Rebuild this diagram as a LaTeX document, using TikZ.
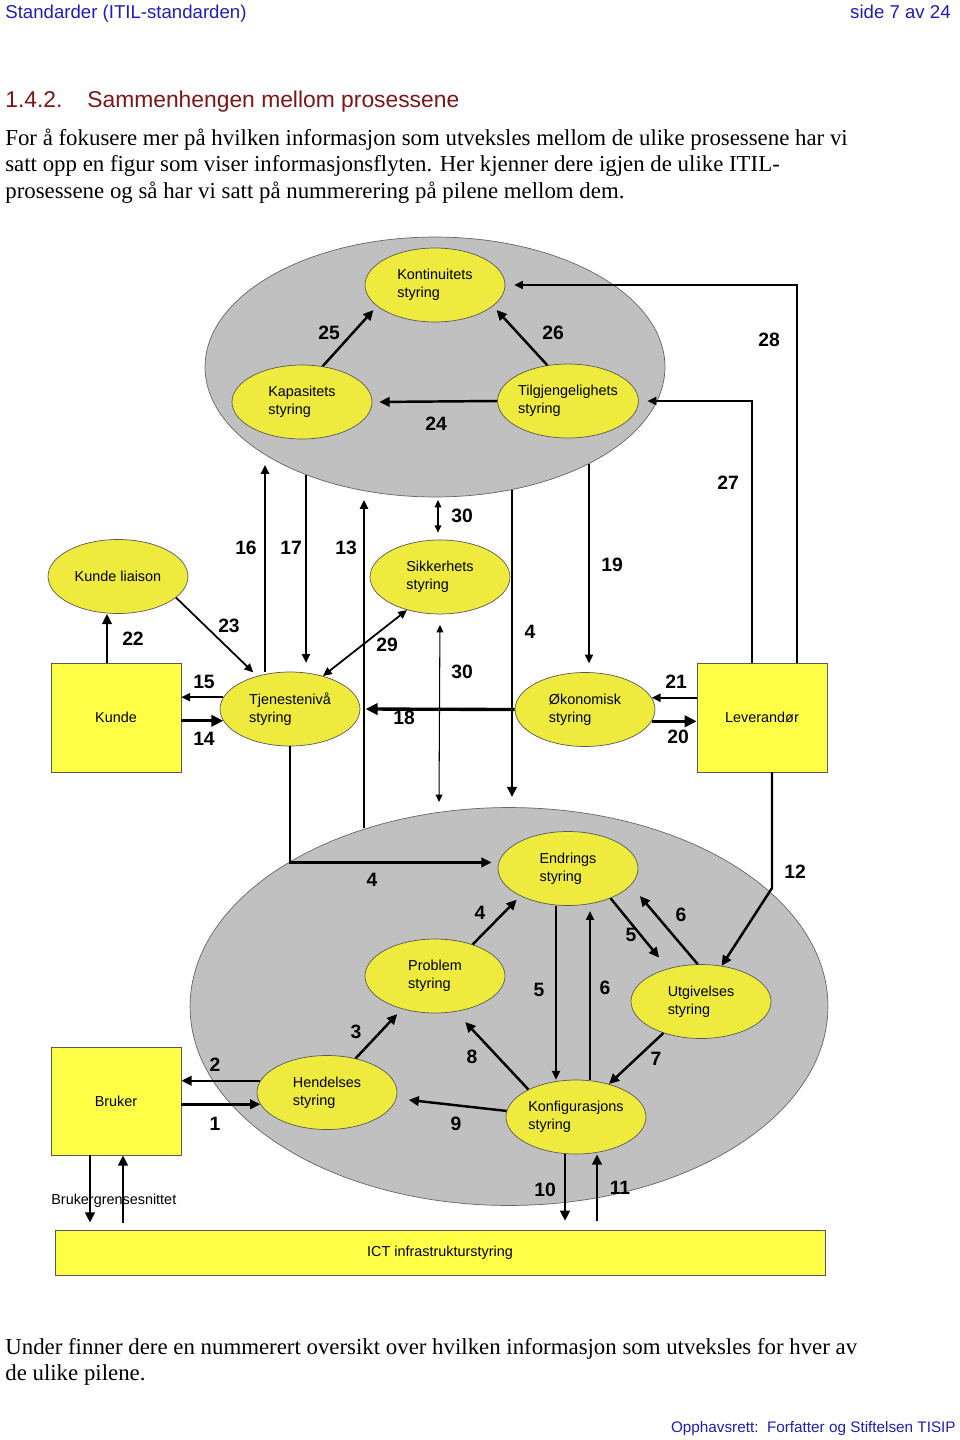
\documentclass[tikz,border=0pt]{standalone}
\usepackage{fontspec}
\setmainfont{Liberation Serif}
\newfontfamily\arialfont{Liberation Sans}
\usetikzlibrary{shapes.geometric,arrows.meta,positioning}

\definecolor{zonegray}{RGB}{192,192,192}
\definecolor{procyellow}{RGB}{238,235,62}
\definecolor{boxyellow}{RGB}{255,255,72}
\definecolor{headblue}{RGB}{30,30,185}
\definecolor{headred}{RGB}{125,22,22}

\tikzset{
  zone/.style={ellipse, draw=black!60, fill=zonegray, inner sep=0pt},
  proc/.style={ellipse, draw=black!65, fill=procyellow, minimum width=2.8cm,
    minimum height=1.48cm, inner sep=0pt, align=left,
    font=\arialfont\fontsize{8.2}{10.2}\selectfont},
  party/.style={rectangle, draw=black!65, fill=boxyellow, minimum width=2.6cm,
    minimum height=2.18cm, inner sep=0pt, font=\arialfont\fontsize{8.2}{10}\selectfont},
  num/.style={font=\arialfont\bfseries\fontsize{11}{13}\selectfont, inner sep=0pt},
  txt/.style={anchor=base west, inner sep=0pt, font=\fontsize{13}{15}\selectfont},
  fat/.style={line width=1.4pt},
  xfat/.style={line width=1.9pt},
  mid/.style={line width=1pt},
  slim/.style={line width=0.6pt},
}

\begin{document}
\begin{tikzpicture}[x=0.02cm, y=-0.02cm, >={Triangle[length=3pt 2, width=2.6pt 2]}]
    \fill[white] (0,0) rectangle (960,1440);
    \useasboundingbox (0,0) rectangle (960,1440);
    %page text
    \node[anchor=base west, inner sep=0pt, text=headblue, font=\arialfont\fontsize{10.6}{12}\selectfont] (hdleft) at (5,18) {Standarder (ITIL-standarden)};
    \node[anchor=base east, inner sep=0pt, text=headblue, font=\arialfont\fontsize{10.6}{12}\selectfont] (hdright) at (951,18) {side 7 av 24};
    \node[anchor=base west, inner sep=0pt, text=headred, font=\arialfont\fontsize{13}{15}\selectfont] (secno) at (5,107) {1.4.2.};
    \node[anchor=base west, inner sep=0pt, text=headred, font=\arialfont\fontsize{13}{15}\selectfont] (sectitle) at (87,107) {Sammenhengen mellom prosessene};
    \node[txt] (intro1) at (5,145) {For å fokusere mer på hvilken informasjon som utveksles mellom de ulike prosessene har vi};
    \node[txt] (intro2) at (5,171.5) {satt opp en figur som viser informasjonsflyten. Her kjenner dere igjen de ulike ITIL-};
    \node[txt] (intro3) at (5,198) {prosessene og så har vi satt på nummerering på pilene mellom dem.};
    \node[txt] (outro1) at (5,1354) {Under finner dere en nummerert oversikt over hvilken informasjon som utveksles for hver av};
    \node[txt] (outro2) at (5,1380.5) {de ulike pilene.};
    \node[anchor=base east, inner sep=0pt, text=headblue, font=\arialfont\fontsize{8.7}{10}\selectfont] (footer) at (956,1432) {Opphavsrett:\ \ Forfatter og Stiftelsen TISIP};

    %zones
    \node[zone, minimum width=9.2cm, minimum height=5.2cm] (topzone) at (435,367) {};
    \node[zone, minimum width=12.76cm, minimum height=7.96cm] (botzone) at (509,1006.5) {};

    %processes
    \node[proc] (kont) at (435,285) {Kontinuitets\\styring};
    \node[proc] (kap) at (302,402) {Kapasitets\\styring};
    \node[proc] (tilg) at (568,401) {Tilgjengelighets\\styring};
    \node[proc] (kl) at (118,576.5) {Kunde liaison};
    \node[proc] (sikk) at (440,577) {Sikkerhets\\styring};
    \node[proc] (tjen) at (290,709) {Tjenestenivå\\styring};
    \node[proc] (okon) at (585,709.5) {Økonomisk\\styring};
    \node[proc] (endr) at (568,868.5) {Endrings\\styring};
    \node[proc] (prob) at (435,976) {Problem\\styring};
    \node[proc] (utg) at (701,1001.5) {Utgivelses\\styring};
    \node[proc] (hend) at (327,1092.5) {Hendelses\\styring};
    \node[proc] (konf) at (576,1117) {Konfigurasjons\\styring};

    %parties
    \node[party] (kunde) at (116,717.5) {Kunde};
    \node[party] (lev) at (762,717.5) {Leverandør};
    \node[party, minimum height=2.16cm] (bruk) at (116,1101) {Bruker};
    \node[party, minimum width=15.4cm, minimum height=0.9cm] (ict) at (440,1252.5) {ICT infrastrukturstyring};
    \node[anchor=base west, inner sep=0pt, font=\arialfont\fontsize{8.2}{10}\selectfont] (ui) at (51,1204) {Brukergrensesnittet};

    %free ends
    \coordinate (t16) at (265,465);
    \coordinate (t17) at (306,475);
    \coordinate (t13) at (364,500);
    \coordinate (b13) at (364,828);
    \coordinate (t30) at (438,500);
    \coordinate (b30) at (439,802);
    \coordinate (t4) at (512,490);
    \coordinate (b4) at (512,797);
    \coordinate (t19) at (589,464);
    \coordinate (k12) at (772,888);

    %edges, top
    \path[->, fat]
     (kap.60) edge[shorten >=3pt] (kont.200)
     (tilg.120) edge[shorten >=3pt] (kont.340)
     (tilg.west) edge[shorten >=4pt] (kap.east);
    \draw[->, mid, shorten >=5pt] (797,0 |- lev.north) |- (kont.east);
    \draw[->, mid, shorten >=5pt] (752,0 |- lev.north) |- (tilg.east);

    %edges, middle
    \draw[->, mid] (265,0 |- tjen.north) -- (t16);
    \draw[->, mid, shorten >=5pt] (t17) -- (t17 |- tjen.north);
    \draw[->, mid] (b13) -- (t13);
    \draw[<->, slim, shorten >=4pt] (t30) -- (t30 |- sikk.north);
    \draw[<->, slim, shorten <=6pt] (sikk.south) -- (b30);
    \draw[->, fat] (t4) -- (b4);
    \draw[->, xfat, shorten >=3pt] (okon.west) -- (tjen.east);
    \draw[->, mid, shorten >=5pt] (t19) -- (t19 |- okon.north);
    \draw[->, fat] (107,0 |- kunde.north) -- (107,0 |- kl.south);
    \draw[->, mid, shorten >=3pt] (kl.340) -- (tjen.135);
    \draw[<->, mid] (tjen.45) -- (sikk.225);
    \draw[->, mid] (tjen.170) -- (tjen.170 -| kunde.east);
    \draw[->, xfat] (tjen.190 -| kunde.east) -- (tjen.190);
    \draw[->, mid] (okon.10 -| lev.west) -- (okon.10);
    \draw[->, xfat] (okon.350) -- (okon.350 -| lev.west);
    \draw[->, fat, shorten >=4pt] (tjen.south) |- (endr.175);
    \draw[->, fat] (772,0 |- lev.south) -- (k12) -- (utg.60);

    %edges, bottom
    \path[->, fat]
     (prob.40) edge[shorten >=3pt] (endr.210)
     (endr.325) edge[shorten >=8pt] (utg.135)
     (utg.95) edge[shorten >=8pt] (endr.345)
     (utg.220) edge (konf.45)
     (konf.150) edge[shorten >=8pt] (prob.300)
     (konf.175) edge[shorten >=7pt] (hend.355)
     (hend.50) edge[shorten >=4pt] (prob.225)
     (hend.170) edge (hend.170 -| bruk.east)
     (hend.190 -| bruk.east) edge (hend.190);
    \draw[->, mid] (556,0 |- endr.south) -- (556,0 |- konf.north);
    \draw[->, mid, shorten >=3pt] (590,0 |- konf.north) -- (590,0 |- endr.south);
    \draw[->, fat, shorten >=5pt] (565,0 |- konf.south) -- (565,0 |- ict.north);
    \draw[->, fat, shorten <=5pt] (597,0 |- ict.north) -- (597,0 |- konf.south);
    \draw[->, fat, shorten >=4pt] (90,0 |- bruk.south) -- (90,0 |- ict.north);
    \draw[->, fat, shorten <=4pt] (123,0 |- ict.north) -- (123,0 |- bruk.south);

    %numbers
    \node[num] (n25) at (329,333) {25};
    \node[num] (n26) at (553,333) {26};
    \node[num] (n24) at (436,424) {24};
    \node[num] (n28) at (769,340) {28};
    \node[num] (n27) at (728,483) {27};
    \node[num] (n30a) at (462,516) {30};
    \node[num] (n16) at (246,548) {16};
    \node[num] (n17) at (291,548) {17};
    \node[num] (n13) at (346,548) {13};
    \node[num] (n19) at (612,565) {19};
    \node[num] (n22) at (133,639) {22};
    \node[num] (n23) at (229,626) {23};
    \node[num] (n29) at (387,645) {29};
    \node[num] (n4a) at (530,632) {4};
    \node[num] (n30b) at (462,672) {30};
    \node[num] (n15) at (204,682) {15};
    \node[num] (n14) at (204,739) {14};
    \node[num] (n18) at (404,718) {18};
    \node[num] (n21) at (676,682) {21};
    \node[num] (n20) at (678,737) {20};
    \node[num] (n4b) at (372,880) {4};
    \node[num] (n12) at (795,872) {12};
    \node[num] (n4c) at (480,913) {4};
    \node[num] (n5a) at (631,935) {5};
    \node[num] (n6a) at (681,915) {6};
    \node[num] (n5b) at (539,990) {5};
    \node[num] (n6b) at (605,988) {6};
    \node[num] (n3) at (356,1032) {3};
    \node[num] (n8) at (472,1057) {8};
    \node[num] (n7) at (656,1059) {7};
    \node[num] (n2) at (215,1065) {2};
    \node[num] (n1) at (215,1124) {1};
    \node[num] (n9) at (456,1124) {9};
    \node[num] (n10) at (545,1190) {10};
    \node[num] (n11) at (620,1188) {11};
\end{tikzpicture}
\end{document}
